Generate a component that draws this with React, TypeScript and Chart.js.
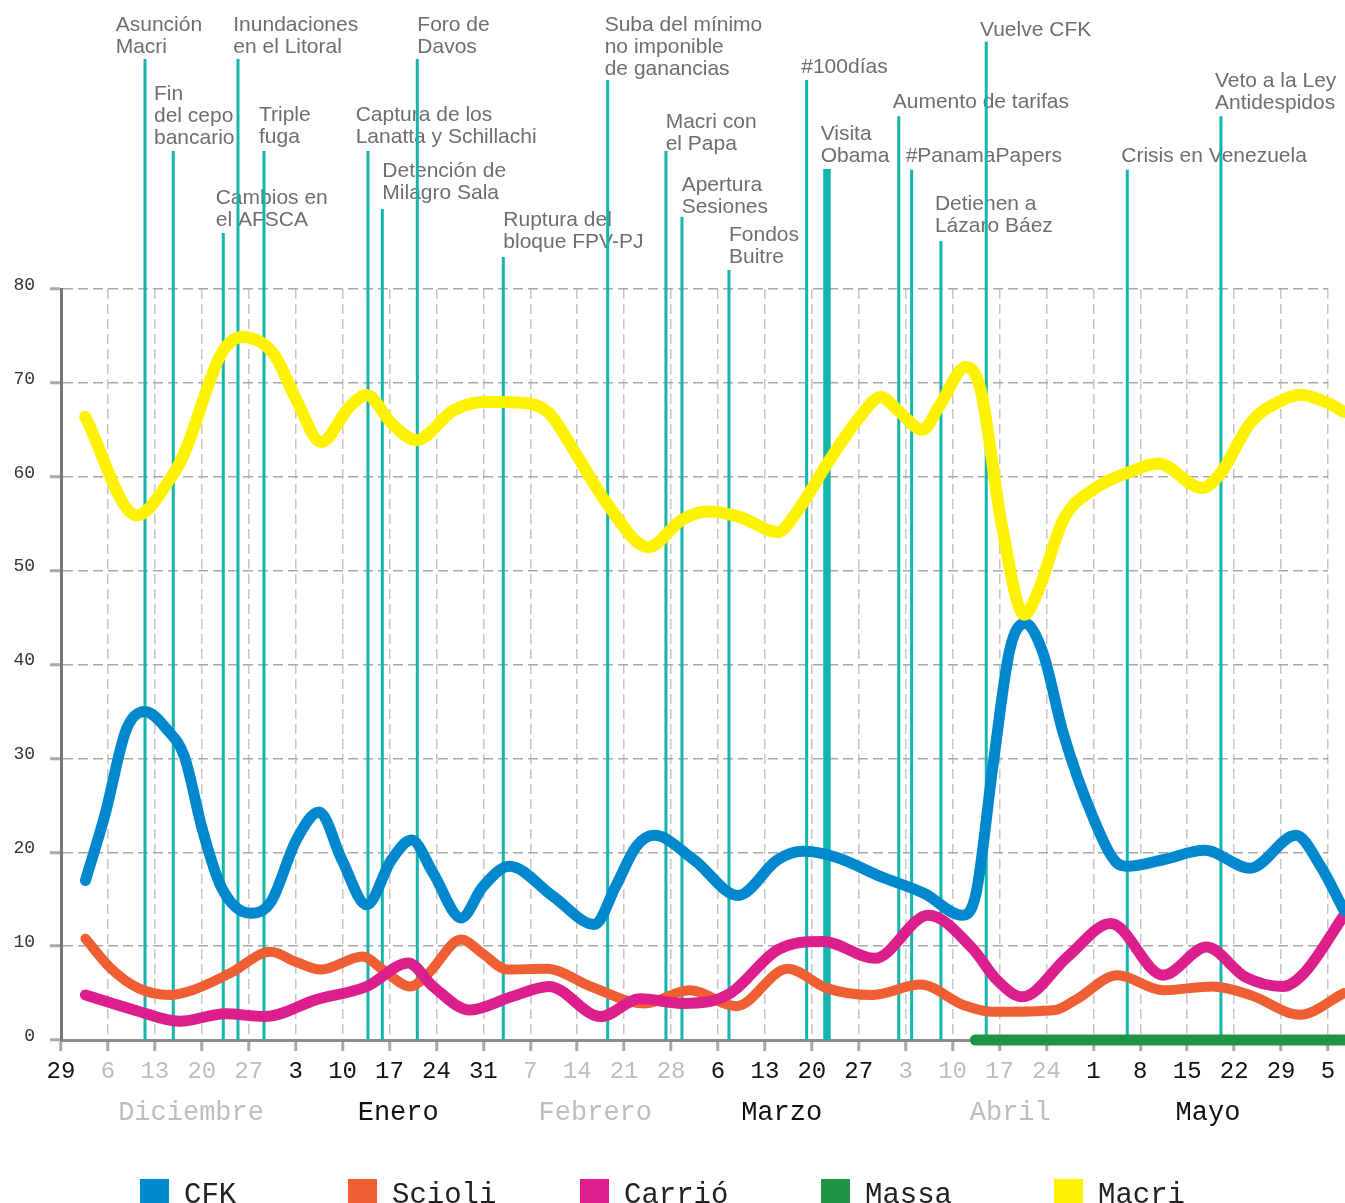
import { useEffect, useRef } from "react";
import { Chart, registerables } from "chart.js";

Chart.register(...registerables);

// ---------- axis data ----------
const TICK_DAYS = [0, 7, 14, 21, 28, 35, 42, 49, 56, 63, 70, 77, 84, 91, 98, 105, 112, 119, 126, 133, 140, 147, 154, 161, 168, 175, 182, 189];
const TICK_LABELS = ["29", "6", "13", "20", "27", "3", "10", "17", "24", "31", "7", "14", "21", "28", "6", "13", "20", "27", "3", "10", "17", "24", "1", "8", "15", "22", "29", "5"];
const TICK_SHADE = ["dark", "light", "light", "light", "light", "dark", "dark", "dark", "dark", "dark", "light", "light", "light", "light", "dark", "dark", "dark", "dark", "light", "light", "light", "light", "dark", "dark", "dark", "dark", "dark", "dark"];
const Y_TICKS = [0, 10, 20, 30, 40, 50, 60, 70, 80];
const MONTHS = ["Diciembre", "Enero", "Febrero", "Marzo", "Abril", "Mayo"];
const MONTH_DAYS = [19.4, 50.3, 79.7, 107.5, 141.6, 171.1];
const MONTH_SHADE = ["light", "dark", "light", "dark", "light", "dark"];

// ---------- series (x = days since 29 Nov 2015) ----------
const CFK_DAYS = [3.65, 6.6, 9.7, 12.5, 15.9, 18.4, 21.1, 23.9, 28.3, 31.3, 35.1, 38.5, 41.9, 45.6, 49.3, 52.3, 55.5, 59.7, 62.9, 66.9, 73.4, 79.6, 82.7, 85.8, 88.5, 94.4, 101, 106.9, 110.6, 115.5, 122.3, 128.8, 134.4, 136.5, 139, 141.5, 143.8, 146.5, 149.5, 153.9, 157.6, 159.1, 164.4, 170.6, 177.4, 184.2, 187.9, 191.4];
const CFK_VALUES = [17.0, 24.1, 33.0, 35.0, 33.0, 30.2, 22.4, 16.3, 13.5, 14.7, 21.3, 24.3, 19.2, 14.4, 19.2, 21.3, 17.8, 13.0, 16.3, 18.5, 15.3, 12.3, 16.3, 20.6, 21.8, 19.2, 15.4, 19.2, 20.1, 19.5, 17.4, 15.6, 13.3, 15.6, 29.1, 41.5, 44.4, 41.2, 32.7, 23.8, 18.8, 18.5, 19.2, 20.2, 18.3, 21.8, 18.5, 13.8];

const SCIOLI_DAYS = [3.65, 7.2, 11.6, 16.2, 19.6, 25.2, 31.3, 35.1, 38.8, 45.0, 48.0, 52.1, 54.8, 59.7, 62.9, 66.6, 72.5, 79.0, 87.0, 93.8, 100.7, 108.4, 114.3, 121.1, 128.2, 134.7, 139.0, 148.3, 151.4, 157.6, 164.4, 171.8, 177.4, 184.8, 191.4];
const SCIOLI_VALUES = [10.8, 7.8, 5.5, 4.8, 5.3, 7.1, 9.4, 8.3, 7.5, 8.9, 7.5, 5.7, 7.1, 10.7, 9.2, 7.5, 7.6, 5.7, 3.9, 5.3, 3.6, 7.6, 5.5, 4.8, 5.9, 3.7, 3.0, 3.2, 4.3, 6.9, 5.3, 5.7, 4.8, 2.7, 5.0];

const CARRIO_DAYS = [3.65, 10.9, 17.7, 24.5, 30.4, 38.1, 45.6, 51.8, 55.5, 61.0, 67.2, 72.8, 80.5, 86.4, 92.6, 96.7, 100.1, 106.9, 113.7, 121.4, 129.4, 135.9, 139.6, 143.4, 150.2, 156.6, 164.4, 170.9, 176.7, 182.3, 185.4, 191.4];
const CARRIO_VALUES = [4.8, 3.2, 2.0, 2.8, 2.5, 4.3, 5.7, 8.2, 5.7, 3.2, 4.6, 5.7, 2.5, 4.4, 3.9, 4.1, 5.1, 9.6, 10.5, 8.7, 13.3, 9.8, 6.4, 4.6, 8.9, 12.4, 6.9, 9.9, 6.7, 5.7, 7.1, 13.3];

const MASSA_DAYS = [136.4, 191.4];
const MASSA_VALUES = [0, 0];

const MACRI_DAYS = [3.6, 11.3, 16.5, 18.4, 23.9, 27.0, 31.7, 35.1, 38.8, 43.1, 45.6, 49.3, 53.0, 58.6, 63.5, 69.7, 72.8, 76.5, 81.4, 87.6, 92.6, 96.4, 101.3, 106.9, 110.0, 114.3, 119.2, 122.3, 124.8, 128.5, 131.0, 135.0, 137.2, 140.3, 143.7, 145.8, 149.5, 153.9, 159.4, 163.7, 170.2, 173.0, 177.4, 182.3, 185.1, 188.8, 191.4];
const MACRI_VALUES = [66.4, 55.9, 60.0, 62.5, 73.1, 74.9, 73.1, 68.2, 63.7, 67.5, 68.7, 65.7, 63.9, 67.1, 68.0, 67.8, 66.8, 62.8, 57.2, 52.5, 55.4, 56.3, 55.7, 54.1, 56.5, 61.4, 66.4, 68.5, 67.1, 65.0, 67.5, 71.7, 69.2, 55.0, 45.3, 47.9, 55.4, 58.6, 60.5, 61.4, 58.8, 60.4, 65.7, 68.2, 68.7, 67.9, 66.9];

const LEGEND_ORDER = ["CFK", "Scioli", "Carrió", "Massa", "Macri"];

// ---------- events ----------
const EVENT_LABELS = [
  ["Asunción", "Macri"],
  ["Fin", "del cepo", "bancario"],
  ["Cambios en", "el AFSCA"],
  ["Inundaciones", "en el Litoral"],
  ["Triple", "fuga"],
  ["Captura de los", "Lanatta y Schillachi"],
  ["Detención de", "Milagro Sala"],
  ["Foro de", "Davos"],
  ["Ruptura del", "bloque FPV-PJ"],
  ["Suba del mínimo", "no imponible", "de ganancias"],
  ["Macri con", "el Papa"],
  ["Apertura", "Sesiones"],
  ["Fondos", "Buitre"],
  ["#100días"],
  ["Visita", "Obama"],
  ["Aumento de tarifas"],
  ["#PanamaPapers"],
  ["Detienen a", "Lázaro Báez"],
  ["Vuelve CFK"],
  ["Crisis en Venezuela"],
  ["Veto a la Ley", "Antidespidos"],
];
const EVENT_DAYS = [12.53, 16.75, 24.21, 26.4, 30.28, 45.79, 47.93, 53.15, 65.98, 81.55, 90.24, 92.63, 99.64, 111.23, 114.26, 124.97, 126.89, 131.26, 138.02, 159.06, 173.03];

// ---------- layout / style ----------
const EVENT_LINE_TOP = [59, 151, 233, 59, 151, 151, 209, 59, 257, 80, 151, 216.7, 270, 80, 169, 116.3, 169.7, 241, 41.7, 169.7, 116.3];
const EVENT_TEXT_Y = [30.7, 100, 204.3, 30.7, 120.7, 120.7, 177.3, 30.7, 226, 30.7, 128.3, 191, 240.7, 72.7, 140, 108.3, 162.3, 210, 35.7, 162.3, 87.3];
const EVENT_TEXT_DX = [-28.3, -18.3, -6.6, -3.7, -4, -11.3, 1, 1, 1, -2, 0.7, 0.7, 1, -4.4, -5.3, -5, -5, -5, -5.3, -5, -5];
const EVENT_LINE_W = [3, 3, 3, 3, 3, 3, 3, 3, 3, 3, 3, 3, 3, 3, 7.5, 3, 3, 3, 3, 3, 3];
const LEGEND_X = [140, 348, 580, 821, 1054];

const COLORS: Record<string, string> = {
  CFK: "#0088cf",
  Scioli: "#ef5f33",
  "Carrió": "#dd1f8e",
  Massa: "#1f9447",
  Macri: "#fff200",
};
const TEAL = "#12b6ad";
const DARK = "#111111";
const LIGHT = "#bdbdbd";
const MONO = "'Liberation Mono', 'DejaVu Sans Mono', monospace";

const W = 1345;
const H = 1203;

function pts(days: number[], vals: number[]) {
  return days.map((d, i) => ({ x: d, y: vals[i] }));
}

const decorPlugin = {
  id: "decor",
  beforeDatasetsDraw(chart: any) {
    const ctx = chart.ctx;
    const xs = chart.scales.x;
    const bottom = chart.chartArea.bottom;
    ctx.save();
    ctx.font = "21px 'Liberation Sans', Arial, sans-serif";
    ctx.fillStyle = "#6e6e6e";
    ctx.textAlign = "left";
    ctx.textBaseline = "alphabetic";
    EVENT_LABELS.forEach((lines, i) => {
      const x = xs.getPixelForValue(EVENT_DAYS[i]);
      lines.forEach((t, j) => {
        ctx.fillText(t, x + EVENT_TEXT_DX[i] - 1, EVENT_TEXT_Y[i] + j * 22);
      });
    });
    ctx.strokeStyle = TEAL;
    EVENT_DAYS.forEach((d, i) => {
      const x = xs.getPixelForValue(d);
      ctx.lineWidth = EVENT_LINE_W[i];
      ctx.beginPath();
      ctx.moveTo(x, EVENT_LINE_TOP[i]);
      ctx.lineTo(x, bottom);
      ctx.stroke();
    });
    ctx.restore();
  },
  afterDraw(chart: any) {
    const ctx = chart.ctx;
    const xs = chart.scales.x;
    ctx.save();
    ctx.font = `27px ${MONO}`;
    ctx.textAlign = "center";
    ctx.textBaseline = "alphabetic";
    MONTHS.forEach((m, i) => {
      ctx.fillStyle = MONTH_SHADE[i] === "dark" ? DARK : LIGHT;
      ctx.fillText(m, xs.getPixelForValue(MONTH_DAYS[i]), 1120);
    });
    ctx.font = `29px ${MONO}`;
    ctx.textAlign = "left";
    LEGEND_ORDER.forEach((name, i) => {
      ctx.fillStyle = COLORS[name];
      ctx.fillRect(LEGEND_X[i], 1179, 29, 30);
      ctx.fillStyle = "#222";
      ctx.fillText(name, LEGEND_X[i] + 44, 1203);
    });
    ctx.restore();
  },
};

export default function App() {
  const ref = useRef<HTMLCanvasElement | null>(null);
  useEffect(() => {
    document.body.style.margin = "0";
    const canvas = ref.current;
    if (!canvas) return;
    const mk = (label: string, days: number[], vals: number[], width: number, order: number) => ({
      label,
      data: pts(days, vals),
      borderColor: COLORS[label],
      backgroundColor: COLORS[label],
      borderWidth: width,
      order,
      clip: false as any,
      fill: false,
      pointRadius: 0,
      cubicInterpolationMode: "monotone" as const,
      borderCapStyle: "round" as const,
      borderJoinStyle: "round" as const,
    });
    const chart = new Chart(canvas, {
      type: "line",
      data: {
        datasets: [
          mk("Macri", MACRI_DAYS, MACRI_VALUES, 12, 0),
          mk("CFK", CFK_DAYS, CFK_VALUES, 11, 1),
          mk("Carrió", CARRIO_DAYS, CARRIO_VALUES, 11, 2),
          mk("Scioli", SCIOLI_DAYS, SCIOLI_VALUES, 10, 3),
          mk("Massa", MASSA_DAYS, MASSA_VALUES, 11, 4),
        ],
      },
      options: {
        animation: false,
        responsive: false,
        maintainAspectRatio: false,
        events: [],
        layout: { padding: { top: 289, right: 17, left: 0, bottom: 0 } },
        plugins: { legend: { display: false }, tooltip: { enabled: false } },
        elements: { point: { radius: 0, hoverRadius: 0 } },
        scales: {
          x: {
            type: "linear",
            min: 0,
            max: 189,
            afterBuildTicks: (s: any) => {
              s.ticks = TICK_DAYS.map((v) => ({ value: v }));
            },
            afterFit: (s: any) => {
              s.height = 163;
            },
            ticks: {
              autoSkip: false,
              maxRotation: 0,
              minRotation: 0,
              padding: 6,
              font: { family: MONO, size: 24 },
              color: (c: any) => (TICK_SHADE[c.index] === "dark" ? DARK : LIGHT),
              callback: (_v: any, i: number) => TICK_LABELS[i],
            },
            grid: {
              color: "#c6c6c6",
              lineWidth: 1.5,
              tickLength: 11,
              tickColor: "#aaaaaa",
              tickWidth: 3,
              tickBorderDash: [],
            },
            border: { display: true, color: "#8c8c8c", width: 3, dash: [10, 5] },
          },
          y: {
            min: 0,
            max: 80,
            afterBuildTicks: (s: any) => {
              s.ticks = Y_TICKS.map((v) => ({ value: v }));
            },
            afterFit: (s: any) => {
              s.width = 61;
            },
            ticks: {
              padding: 15,
              labelOffset: -4,
              color: "#333",
              font: { family: MONO, size: 18 },
              callback: (v: any) => String(v),
            },
            grid: {
              color: "#a9a9a9",
              lineWidth: 1.5,
              tickLength: 11,
              tickColor: "#aaaaaa",
              tickWidth: 3,
              tickBorderDash: [],
            },
            border: { display: true, color: "#777777", width: 3, dash: [10, 5] },
          },
        },
      },
      plugins: [decorPlugin],
    } as any);
    return () => chart.destroy();
  }, []);
  return (
    <div style={{ width: W, height: H, background: "#fff" }}>
      <canvas ref={ref} width={W} height={H} style={{ display: "block", width: W, height: H }} />
    </div>
  );
}
